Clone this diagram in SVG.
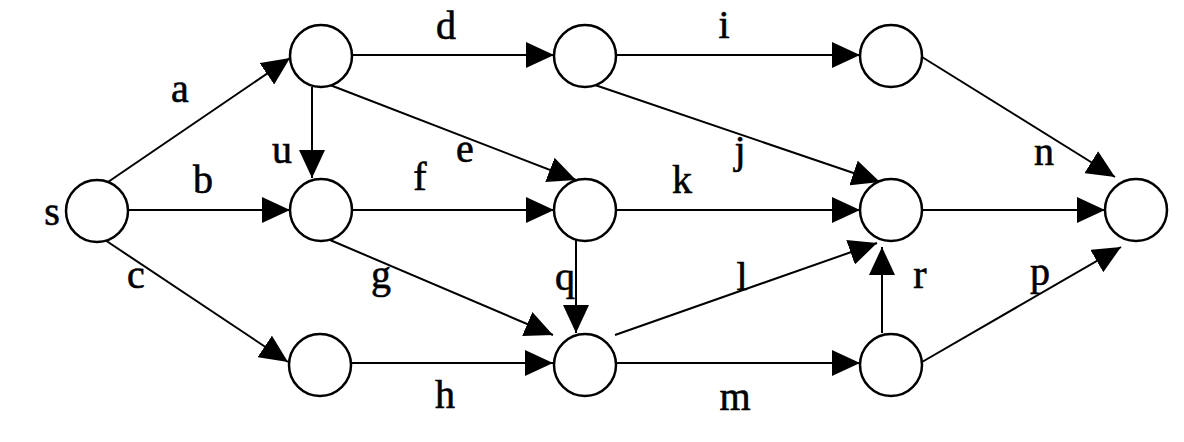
<svg xmlns="http://www.w3.org/2000/svg" width="1184" height="442" viewBox="0 0 1184 442">
<style>
.node{fill:#fff;stroke:#000;stroke-width:2.5}
.edge{stroke:#000;stroke-width:2;fill:none;marker-end:url(#ah)}
.lbl{font-family:"Liberation Serif","Times New Roman",serif;font-size:40px;fill:#000;stroke:#000;stroke-width:0.6;text-anchor:middle}
</style>
<defs>
<marker id="ah" markerUnits="userSpaceOnUse" markerWidth="28" markerHeight="26" refX="28" refY="13" orient="auto" viewBox="0 0 28 26">
<path d="M0,0 L28,13 L0,26 z" fill="#000"/>
</marker>
</defs>
<rect width="1184" height="442" fill="#fff"/>
<g id="connectors">
<line class="edge" x1="108" y1="182" x2="290" y2="58"/>
<line class="edge" x1="128" y1="210" x2="290" y2="210"/>
<line class="edge" x1="105" y1="240" x2="288" y2="362"/>
<line class="edge" x1="312" y1="87" x2="312" y2="178"/>
<line class="edge" x1="351" y1="55" x2="554" y2="55"/>
<line class="edge" x1="330" y1="85" x2="576" y2="180"/>
<line class="edge" x1="351" y1="210" x2="554" y2="210"/>
<line class="edge" x1="330" y1="240" x2="553" y2="335"/>
<line class="edge" x1="351" y1="363" x2="553" y2="363"/>
<line class="edge" x1="617" y1="55" x2="860" y2="55"/>
<line class="edge" x1="595" y1="85" x2="880" y2="182"/>
<line class="edge" x1="617" y1="210" x2="860" y2="210"/>
<line class="edge" x1="576" y1="240" x2="576" y2="333"/>
<line class="edge" x1="615" y1="335" x2="877" y2="243"/>
<line class="edge" x1="617" y1="363" x2="860" y2="363"/>
<line class="edge" x1="922" y1="57" x2="1115" y2="177"/>
<line class="edge" x1="922" y1="210" x2="1105" y2="210"/>
<line class="edge" x1="882" y1="333" x2="882" y2="247"/>
<line class="edge" x1="922" y1="362" x2="1121" y2="247"/>
</g>
<g id="node-s"><circle class="node" cx="97" cy="211" r="31"/><text class="lbl" x="52" y="225">s</text></g>
<g id="node-A"><circle class="node" cx="321" cy="56" r="31"/></g>
<g id="node-U"><circle class="node" cx="321" cy="210" r="31"/></g>
<g id="node-C"><circle class="node" cx="320" cy="365" r="31"/></g>
<g id="node-D"><circle class="node" cx="585" cy="56" r="31"/></g>
<g id="node-E"><circle class="node" cx="585" cy="210" r="31"/></g>
<g id="node-G"><circle class="node" cx="585" cy="365" r="31"/></g>
<g id="node-I"><circle class="node" cx="891" cy="56" r="31"/></g>
<g id="node-J"><circle class="node" cx="891" cy="210" r="31"/></g>
<g id="node-M"><circle class="node" cx="891" cy="365" r="31"/></g>
<g id="node-T"><circle class="node" cx="1136" cy="210" r="31"/></g>
<g id="labels">
<text class="lbl" x="180" y="102">a</text>
<text class="lbl" x="203" y="193">b</text>
<text class="lbl" x="136" y="288">c</text>
<text class="lbl" x="282" y="163">u</text>
<text class="lbl" x="446" y="39">d</text>
<text class="lbl" x="465" y="162">e</text>
<text class="lbl" x="420" y="190">f</text>
<text class="lbl" x="381" y="288">g</text>
<text class="lbl" x="445" y="408">h</text>
<text class="lbl" x="724" y="38">i</text>
<text class="lbl" x="740" y="163">j</text>
<text class="lbl" x="682" y="193">k</text>
<text class="lbl" x="742" y="290">l</text>
<text class="lbl" x="735" y="410">m</text>
<text class="lbl" x="1044" y="165">n</text>
<text class="lbl" x="1040" y="285">p</text>
<text class="lbl" x="565" y="290">q</text>
<text class="lbl" x="920" y="288">r</text>
</g>
</svg>
